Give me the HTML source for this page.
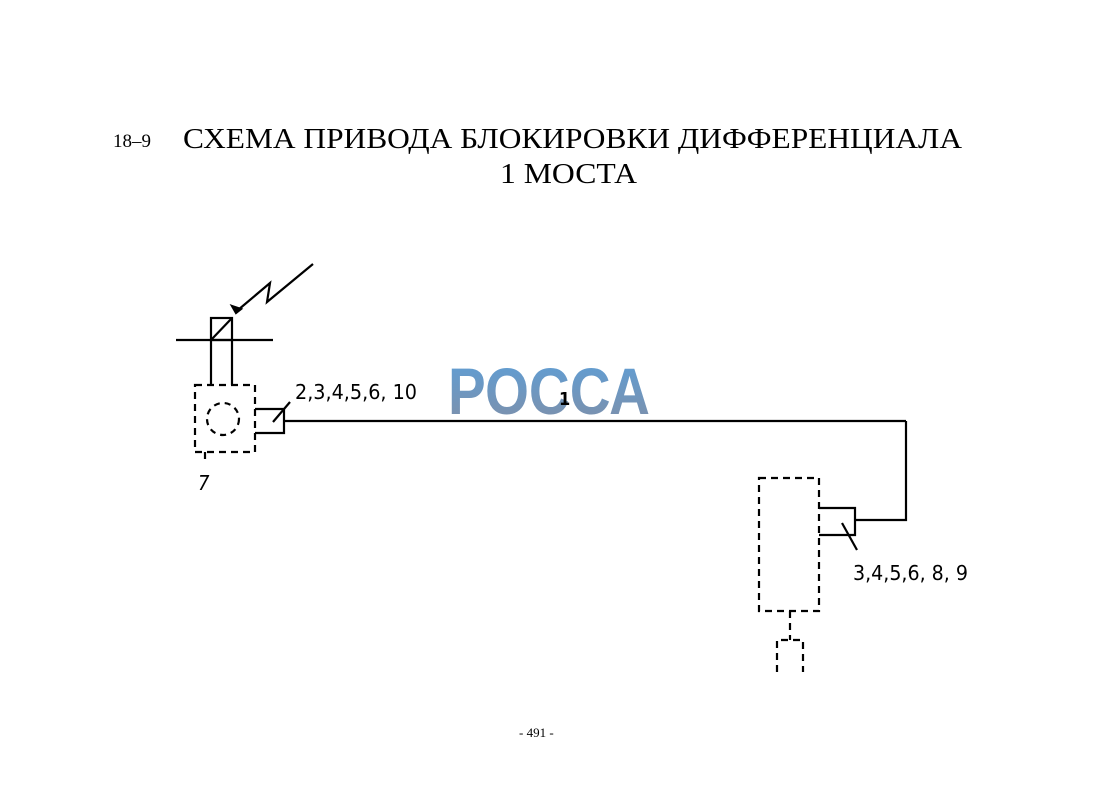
<!DOCTYPE html>
<html><head><meta charset="utf-8"><style>
body{margin:0;background:#fff;width:1100px;height:785px;overflow:hidden}
</style></head><body>
<svg width="1100" height="785" xmlns="http://www.w3.org/2000/svg">
<defs><linearGradient id="g" x1="0" y1="0" x2="0" y2="1"><stop offset="0" stop-color="#5d9fd8"/><stop offset="1" stop-color="#7f8fa8"/></linearGradient></defs>
<g font-family="Liberation Serif, serif" fill="#000">
<text x="113" y="147" font-size="19">18–9</text>
<text x="183" y="148" font-size="29" textLength="779" lengthAdjust="spacingAndGlyphs">СХЕМА  ПРИВОДА   БЛОКИРОВКИ  ДИФФЕРЕНЦИАЛА</text>
<text x="500" y="183" font-size="29" textLength="137" lengthAdjust="spacingAndGlyphs">1  МОСТА</text>
<text x="519" y="737" font-size="13">- 491 -</text>
</g>
<text x="448" y="414" font-family="Liberation Sans, sans-serif" font-weight="bold" font-size="66" fill="url(#g)" textLength="202" lengthAdjust="spacingAndGlyphs">РОССА</text>
<g stroke="#000" stroke-width="2.2" fill="none">
<polyline points="313,264 267,302 270,283 238,310"/>
<path d="M232,306 L241,309 L236,313 Z" fill="#000"/>
<rect x="211" y="318" width="21" height="22"/>
<line x1="211" y1="340" x2="232" y2="318"/>
<line x1="176" y1="340" x2="273" y2="340"/>
<line x1="211" y1="340" x2="211" y2="385"/>
<line x1="232" y1="340" x2="232" y2="385"/>
<rect x="195" y="385" width="60" height="67" stroke-dasharray="7,5"/>
<circle cx="223" cy="419" r="16" stroke-dasharray="6,5"/>
<polyline points="255,409 284,409 284,433 255,433"/>
<line x1="284" y1="421" x2="906" y2="421"/>
<line x1="273" y1="422" x2="290" y2="402"/>
<line x1="205" y1="452" x2="205" y2="459"/>
<polyline points="906,421 906,520 855,520"/>
<polyline points="819,508 855,508 855,535 819,535"/>
<rect x="759" y="478" width="60" height="133" stroke-dasharray="7,5"/>
<line x1="790" y1="611" x2="790" y2="640" stroke-dasharray="7,5"/>
<polyline points="777,672 777,640 803,640 803,672" stroke-dasharray="7,5"/>
<line x1="842" y1="523" x2="857" y2="550"/>
</g>
<g font-family="DejaVu Sans Condensed, DejaVu Sans, sans-serif" font-size="20" fill="#000">
<text x="295" y="399" textLength="122" lengthAdjust="spacingAndGlyphs">2,3,4,5,6, 10</text>
<text x="853" y="580" textLength="115" lengthAdjust="spacingAndGlyphs">3,4,5,6, 8, 9</text>
<text x="198" y="490" font-style="italic">7</text>
<text x="559" y="405" font-size="18" font-weight="bold">1</text>
</g>
</svg>
</body></html>
